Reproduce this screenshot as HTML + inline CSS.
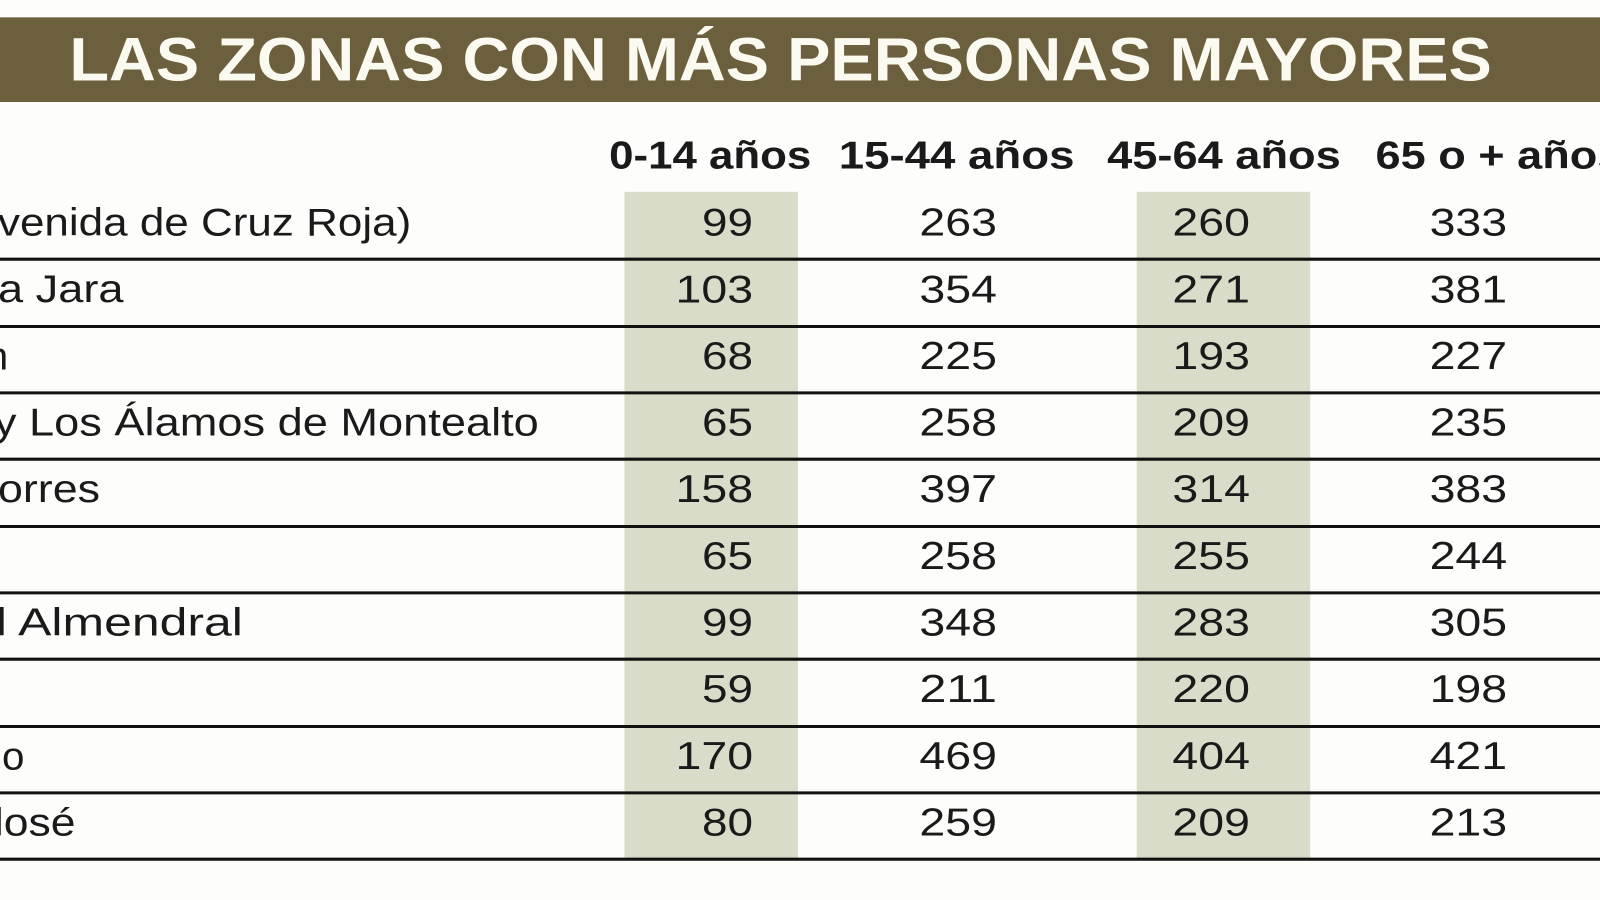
<!DOCTYPE html>
<html><head><meta charset="utf-8"><style>
html,body{margin:0;padding:0;background:#fff;width:1600px;height:900px;overflow:hidden}
svg{display:block}
text{font-family:"Liberation Sans",sans-serif;fill:#1a1a1a}
</style></head><body>
<svg width="1600" height="900" viewBox="0 0 1568 882" preserveAspectRatio="none">
<rect x="0" y="0" width="1568" height="882" fill="#fdfdfb"/>
<rect x="0" y="17" width="1568" height="83" fill="#6b5f3e"/>
<text x="68" y="79" font-size="60" font-weight="bold" style="fill:#fbfaf0" textLength="1394" lengthAdjust="spacingAndGlyphs">LAS ZONAS CON  MÁS PERSONAS MAYORES</text>
<rect x="612" y="188" width="170" height="654" fill="#d9dcc8"/>
<rect x="1114" y="188" width="170" height="654" fill="#d9dcc8"/>
<g font-size="38" font-weight="bold">
<text x="597" y="165" textLength="198" lengthAdjust="spacingAndGlyphs">0-14 años</text>
<text x="822" y="165" textLength="231" lengthAdjust="spacingAndGlyphs">15-44 años</text>
<text x="1085" y="165" textLength="229" lengthAdjust="spacingAndGlyphs">45-64 años</text>
<text x="1348" y="165" textLength="242" lengthAdjust="spacingAndGlyphs">65 o + años</text>
</g>
<g stroke="#111" stroke-width="3">
<line x1="0" x2="1568" y1="254" y2="254"/><line x1="0" x2="1568" y1="320" y2="320"/>
<line x1="0" x2="1568" y1="385" y2="385"/><line x1="0" x2="1568" y1="450" y2="450"/>
<line x1="0" x2="1568" y1="516" y2="516"/><line x1="0" x2="1568" y1="581" y2="581"/>
<line x1="0" x2="1568" y1="646" y2="646"/><line x1="0" x2="1568" y1="712" y2="712"/>
<line x1="0" x2="1568" y1="777" y2="777"/><line x1="0" x2="1568" y1="842" y2="842"/>
</g>
<g font-size="38">
<text x="-2" y="231" textLength="405" lengthAdjust="spacingAndGlyphs">venida de Cruz Roja)</text>
<text x="-2" y="296" textLength="123" lengthAdjust="spacingAndGlyphs">a Jara</text>
<text x="-14" y="362" textLength="22" lengthAdjust="spacingAndGlyphs">n</text>
<text x="-6" y="427" textLength="534" lengthAdjust="spacingAndGlyphs">y Los Álamos de Montealto</text>
<text x="-2" y="492" textLength="100" lengthAdjust="spacingAndGlyphs">orres</text>
<text x="-4" y="623" textLength="242" lengthAdjust="spacingAndGlyphs">l Almendral</text>
<text x="2" y="754" textLength="22" lengthAdjust="spacingAndGlyphs">o</text>
<text x="-6" y="819" textLength="80" lengthAdjust="spacingAndGlyphs">losé</text>
</g>
<g font-size="38" text-anchor="end" id="nums"></g>
</svg>
<script>
var d=[[99,263,260,333],[103,354,271,381],[68,225,193,227],[65,258,209,235],[158,397,314,383],[65,258,255,244],[99,348,283,305],[59,211,220,198],[170,469,404,421],[80,259,209,213]];
var xs=[738,977,1225,1477],g=document.getElementById('nums'),ns="http://www.w3.org/2000/svg";
d.forEach(function(r,i){r.forEach(function(v,j){var t=document.createElementNS(ns,'text');t.setAttribute('x',xs[j]);t.setAttribute('y',231+i*65.3);var s=String(v);t.setAttribute('textLength',s.length==3?76:50);t.setAttribute('lengthAdjust','spacingAndGlyphs');t.textContent=s;g.appendChild(t);});});
</script>
</body></html>
